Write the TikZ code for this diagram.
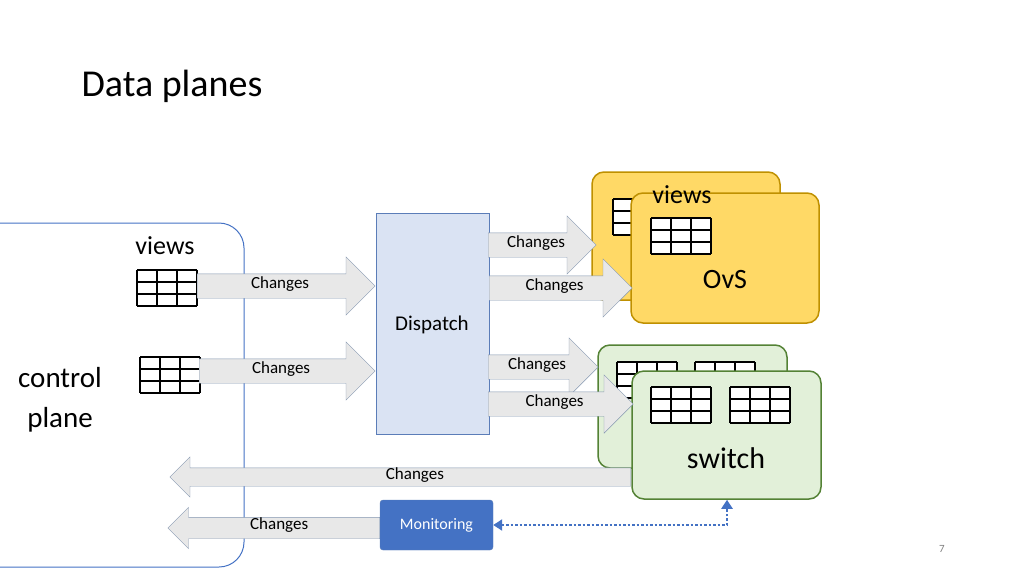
\documentclass[tikz,border=0pt]{standalone}
\usepackage{fontspec}
\setmainfont{Carlito}
\usetikzlibrary{shapes.arrows,arrows.meta}
\definecolor{arrfill}{HTML}{E8E8E8}
\definecolor{arrline}{HTML}{8497B0}
\definecolor{dispfill}{HTML}{DAE3F3}
\definecolor{displine}{HTML}{5B7DB8}
\definecolor{ovsfill}{HTML}{FFD966}
\definecolor{ovsline}{HTML}{BF9000}
\definecolor{swfill}{HTML}{E2F0D9}
\definecolor{swline}{HTML}{548235}
\definecolor{monfill}{HTML}{4472C4}
\newcommand\viewgrid[2]{%
  \fill[white] (#1,#2) rectangle ++(60,36);
  \foreach \i in {0,1,2,3} \draw[line width=1.4pt] (#1+20*\i,#2) -- ++(0,36);
  \foreach \j in {0,1,2,3} \draw[line width=1.4pt] (#1,#2+12*\j) -- ++(60,0);
}
\tikzset{
  blk/.style={single arrow, draw=arrline, fill=arrfill, inner sep=0pt,
    text height=14pt, text depth=10pt, single arrow head extend=17pt,
    font=\fontsize{17}{17}\selectfont},
  blkthin/.style={blk, text height=11pt, text depth=7pt, single arrow head extend=11pt},
  box/.style={draw, line width=1.5pt, rounded corners=12pt}
}
\begin{document}
\begin{tikzpicture}[x=1pt,y=-1pt]
\useasboundingbox (0,0) rectangle (1024,576);
\node[anchor=west, font=\fontsize{38}{38}\selectfont] (title) at (78,86) {Data planes};
% control plane
\draw[monfill, line width=1pt, rounded corners=25pt] (-20,223) -- (244,223) -- (244,567) -- (-20,567);
\node[font=\fontsize{26}{26}\selectfont] (views) at (165,246) {views};
\viewgrid{137}{270}
\viewgrid{140}{357}
\node[align=center, font=\fontsize{29}{40}\selectfont] (cp) at (60,400) {control\\plane};
% dispatch
\node[draw=displine, fill=dispfill, minimum width=113, minimum height=221, font=\fontsize{21}{21}\selectfont] (disp) at (432.5,323.5) {};
\node[font=\fontsize{21}{21}\selectfont] (displbl) at (432,325) {Dispatch};
% input arrows
\node[blk, anchor=tail, minimum height=178] (a1) at (197,286) {Changes\hspace{40pt}};
\node[blk, anchor=tail, minimum height=176] (a2) at (199,371) {Changes\hspace{40pt}};
% OvS
\node[box, draw=ovsline, fill=ovsfill, minimum width=188, minimum height=128] (ovsb) at (686,236) {};
\viewgrid{613}{199}
\node[box, draw=ovsline, fill=ovsfill, minimum width=188, minimum height=130] (ovsf) at (725,258) {};
\node[font=\fontsize{26}{26}\selectfont] (ovsviews) at (682,195) {views};
\viewgrid{651}{218}
\node[font=\fontsize{28}{28}\selectfont] (ovs) at (725,280) {OvS};
% switch
\node[box, draw=swline, fill=swfill, minimum width=189, minimum height=123] (swb) at (692.5,406.5) {};
\viewgrid{617}{362}
\viewgrid{695}{362}
\node[box, draw=swline, fill=swfill, minimum width=189, minimum height=128] (swf) at (726.5,435) {};
\viewgrid{651}{387}
\viewgrid{730}{387}
\node[font=\fontsize{30}{30}\selectfont] (sw) at (726,458) {switch};
% output arrows
\node[blk, anchor=tail, minimum height=108] (b1) at (488,245) {Changes\hspace{20pt}};
\node[blk, anchor=tail, minimum height=143] (b2) at (489,288) {Changes\hspace{40pt}};
\node[blk, anchor=tail, minimum height=110] (b3) at (488,367) {Changes\hspace{20pt}};
\node[blk, anchor=tail, minimum height=145] (b4) at (488,404) {Changes\hspace{40pt}};
% back to control plane
\node[blkthin, anchor=tail, shape border rotate=180, minimum height=461] (c1) at (631,477) {\hspace{20pt}Changes};
\node[blk, anchor=tail, shape border rotate=180, minimum height=212, text height=12pt, text depth=9pt, single arrow head extend=10pt] (c2) at (380,528) {Changes\hspace{40pt}};
\node[fill=monfill, draw=displine, rounded corners=3pt, minimum width=113, minimum height=50, text=white, font=\fontsize{16}{16}\selectfont] (mon) at (436.5,525) {Monitoring};
\coordinate (corner) at (727,525);
\draw[monfill, line width=2.5pt, dotted, {Triangle[length=9pt,width=11pt]}-{Triangle[length=9pt,width=11pt]}] (mon.east) -- (corner) -- (swf.south -| corner);
\node[text=gray, font=\fontsize{11}{11}\selectfont] (pg) at (942,549) {7};
\end{tikzpicture}
\end{document}
